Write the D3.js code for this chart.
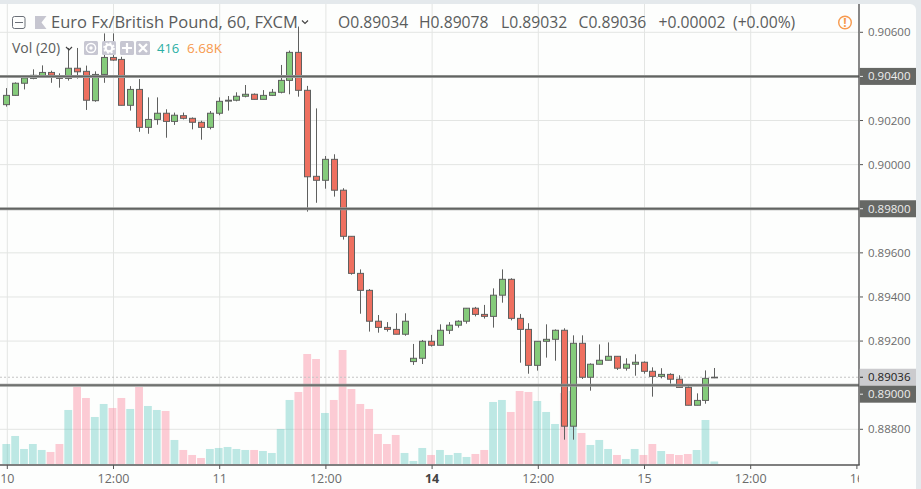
<!DOCTYPE html>
<html><head><meta charset="utf-8">
<script src="https://cdn.jsdelivr.net/npm/d3@7/dist/d3.min.js"></script>
<style>html,body{margin:0;padding:0;background:#e4e9ec;overflow:hidden}svg{display:block}text{font-family:"Open Sans",sans-serif}</style>
</head><body><svg id="c" width="921" height="489"></svg>
<script>
const opens=[.90272,.90314,.90369,.90391,.90403,.90418,.90403,.90391,.90437,.90423,.90290,.90409,.90486,.90477,.90269,.90341,.90169,.90205,.90233,.90196,.90222,.90210,.90192,.90169,.90233,.90288,.90292,.90310,.90319,.90296,.90314,.90328,.90382,.90509,.90337,.89947,.89929,.90024,.89884,.89675,.89507,.89430,.89290,.89262,.89253,.89231,.89107,.89122,.89199,.89181,.89249,.89272,.89290,.89349,.89321,.89312,.89408,.89480,.89303,.89253,.89090,.89199,.89208,.89249,.88814,.89190,.89036,.89095,.89113,.89131,.89077,.89095,.89104,.89063,.89040,.89049,.89027,.88990,.88909,.88931,.89034];
const highs=[.90347,.90373,.90402,.90432,.90450,.90426,.90414,.90529,.90529,.90449,.90423,.90595,.90595,.90489,.90356,.90388,.90305,.90305,.90251,.90236,.90236,.90214,.90199,.90243,.90305,.90311,.90328,.90361,.90323,.90338,.90343,.90452,.90517,.90626,.90357,.90255,.90039,.90047,.89893,.89675,.89525,.89436,.89318,.89286,.89326,.89326,.89187,.89205,.89228,.89276,.89286,.89294,.89350,.89355,.89364,.89439,.89525,.89485,.89323,.89281,.89199,.89276,.89253,.89258,.89226,.89226,.89099,.89185,.89194,.89131,.89122,.89140,.89108,.89081,.89077,.89054,.89045,.89004,.88963,.89067,.89078];
const lows=[.90263,.90312,.90341,.90387,.90402,.90371,.90349,.90381,.90390,.90248,.90285,.90371,.90471,.90269,.90245,.90149,.90140,.90181,.90122,.90180,.90205,.90160,.90113,.90160,.90224,.90245,.90287,.90305,.90296,.90296,.90311,.90323,.90319,.90308,.89787,.89827,.89891,.89855,.89660,.89501,.89324,.89243,.89238,.89243,.89231,.89224,.89092,.89096,.89175,.89181,.89232,.89261,.89279,.89312,.89302,.89261,.89374,.89294,.89102,.89052,.89066,.89125,.89111,.88753,.88753,.89028,.88975,.89095,.89113,.89069,.89066,.89043,.89052,.88948,.89031,.89007,.88990,.88909,.88909,.88916,.89032];
const closes=[.90314,.90369,.90393,.90405,.90418,.90405,.90391,.90437,.90421,.90292,.90409,.90486,.90474,.90269,.90341,.90169,.90205,.90233,.90196,.90224,.90210,.90192,.90169,.90233,.90287,.90292,.90310,.90319,.90296,.90314,.90328,.90382,.90509,.90337,.89945,.89929,.90024,.89884,.89675,.89507,.89430,.89290,.89262,.89253,.89231,.89290,.89122,.89199,.89181,.89249,.89272,.89290,.89349,.89321,.89312,.89408,.89480,.89303,.89253,.89090,.89199,.89208,.89249,.88814,.89190,.89036,.89095,.89113,.89131,.89077,.89095,.89104,.89063,.89040,.89049,.89027,.88990,.88909,.88931,.89031,.89036];
const volumes=[3320,4649,2491,3320,2325,1993,3320,8965,12782,10957,7803,9961,9297,10957,9131,12782,9629,8965,8799,3985,2325,1495,997,2491,2657,2823,2491,2325,2325,2159,1827,5811,10625,11953,18260,17430,8467,10625,18924,12450,9961,9131,4981,3320,4815,1827,499,2657,1495,2325,1495,1827,1163,1661,2325,10293,10625,8633,12119,11953,10459,8633,6641,11787,12119,5147,3155,3985,2491,1495,831,2491,1495,3320,2158,1660,1494,1660,2324,7304,416];
const priceTicks=[.906,.904,.902,.900,.898,.896,.894,.892,.890,.888];
const levels=[.904,.898,.890];
const lastPrice=.89036;
const timeIndex=[0,12,24,36,48,60,72,84,96];
const timeLabels=["10","12:00","11","12:00","14","12:00","15","12:00","16"];
const boldLabels=["14"];

const svg=d3.select("#c");
const W=859,B=465;
const x=d3.scaleLinear().domain([0,80]).range([6.3,714.3]);
const tx=i=>x(i)+1;
const y=d3.scaleLinear().domain([.906,.888]).range([32.3,429.3]);
const yv=d3.scaleLinear().domain([0,20584]).range([464,340]);
const fmt=d3.format(".5f");
const defs=svg.append("defs");
defs.append("clipPath").attr("id","pane").append("rect").attr("x",0).attr("y",0).attr("width",W).attr("height",489);

svg.append("rect").attr("x",-10).attr("y",4).attr("width",926).attr("height",500).attr("rx",6).attr("fill","#fdfefd");

// grid
const g=svg.append("g");
g.selectAll(".h").data(priceTicks).join("line").attr("x1",0).attr("x2",W).attr("y1",d=>y(d)).attr("y2",d=>y(d)).attr("stroke","#e3e5e3").attr("stroke-width",1);
g.selectAll(".v").data(timeIndex.slice(0,8)).join("line").attr("x1",d=>tx(d)).attr("x2",d=>tx(d)).attr("y1",4).attr("y2",B).attr("stroke","#e3e5e3").attr("stroke-width",1);

// volume
const idx=d3.range(opens.length);
const up=i=>closes[i]>=opens[i];
svg.append("g").selectAll("rect").data(idx).join("rect")
 .attr("x",i=>x(i)-3.9).attr("width",7.8).attr("y",i=>yv(volumes[i])).attr("height",i=>464-yv(volumes[i]))
 .attr("fill",i=>up(i)?"#53c4bb":"#fb8fa3").attr("fill-opacity",i=>up(i)?.38:.46);

// last price dashed
svg.append("line").attr("x1",0).attr("x2",W).attr("y1",y(lastPrice)).attr("y2",y(lastPrice)).attr("stroke","#c4c4c4").attr("stroke-width",1).attr("stroke-dasharray","2,2");

// candles
const c=svg.append("g");
c.selectAll("line").data(idx).join("line").attr("x1",i=>Math.round(x(i))+.5).attr("x2",i=>Math.round(x(i))+.5)
 .attr("y1",i=>y(highs[i])).attr("y2",i=>y(lows[i])).attr("stroke","#5f605f").attr("stroke-width",1);
c.selectAll("rect").data(idx).join("rect")
 .attr("x",i=>Math.round(x(i))-2.5).attr("width",6)
 .attr("y",i=>y(Math.max(opens[i],closes[i]))).attr("height",i=>Math.max(.6,Math.abs(y(opens[i])-y(closes[i]))))
 .attr("fill",i=>up(i)?"#85cb7b":"#ee7060").attr("stroke","#5f605f").attr("stroke-width",1);

// level lines
const lv=svg.append("g");
lv.selectAll(".a").data(levels).join("line").attr("x1",0).attr("x2",W).attr("y1",d=>y(d)).attr("y2",d=>y(d)).attr("stroke","#9a9c9a").attr("stroke-width",3);
lv.selectAll(".b").data(levels).join("line").attr("x1",0).attr("x2",W).attr("y1",d=>y(d)).attr("y2",d=>y(d)).attr("stroke","#626462").attr("stroke-width",1.3);

// axes frame
svg.append("line").attr("x1",W).attr("x2",W).attr("y1",4).attr("y2",B).attr("stroke","#555").attr("stroke-width",1.4);
svg.append("line").attr("x1",0).attr("x2",W+.7).attr("y1",B).attr("y2",B).attr("stroke","#555").attr("stroke-width",1.4);

// time axis
const ta=svg.append("g").attr("clip-path","url(#pane)");
timeIndex.forEach((t,k)=>{
  svg.append("line").attr("x1",tx(t)).attr("x2",tx(t)).attr("y1",B).attr("y2",B+4).attr("stroke","#555");
  ta.append("text").attr("x",tx(t)).attr("y",483).attr("text-anchor","middle").attr("font-size",12.5)
    .attr("font-weight",boldLabels.includes(timeLabels[k])?700:400).attr("fill",boldLabels.includes(timeLabels[k])?"#444":"#6b6b6b").text(timeLabels[k]);
});

// price labels
const plain=priceTicks.filter(p=>!levels.includes(p));
plain.forEach(p=>{
  svg.append("line").attr("x1",W+1).attr("x2",W+4).attr("y1",y(p)).attr("y2",y(p)).attr("stroke","#555");
  svg.append("text").attr("x",868).attr("y",y(p)+4).attr("font-size",11.5).attr("fill","#6b6b6b").text(fmt(p));
});
function box(p,dy,bg,fg){
  const cy=y(p)+dy;
  svg.append("rect").attr("x",W+.7).attr("y",cy-8.5).attr("width",916-W-.7).attr("height",17).attr("fill",bg);
  svg.append("line").attr("x1",W+1).attr("x2",W+4).attr("y1",cy).attr("y2",cy).attr("stroke",fg);
  svg.append("text").attr("x",868).attr("y",cy+4).attr("font-size",11.5).attr("fill",fg).text(fmt(p));
}
box(.904,0,"#666865","#eeeeee");
box(.898,0,"#666865","#eeeeee");
box(lastPrice,0,"#cbcbce","#222222");
box(.890,9,"#666865","#eeeeee");

// legend
const ink="#5a5c5c";
svg.append("rect").attr("x",12.5).attr("y",16.5).attr("width",12.5).attr("height",12).attr("rx",2).attr("fill","none").attr("stroke","#6b7078").attr("stroke-width",1);
svg.append("line").attr("x1",15).attr("x2",23).attr("y1",22.5).attr("y2",22.5).attr("stroke","#6b7078");
svg.append("path").attr("d","M35 16H46.5L41.5 22.5L46.5 29H35Z").attr("fill","#c6c6d0");
svg.append("text").attr("x",51).attr("y",28).attr("font-size",16.5).attr("fill",ink).text("Euro Fx/British Pound, 60, FXCM");
svg.append("path").attr("d","M302 20.5L305 23.5L308 20.5").attr("fill","none").attr("stroke","#444").attr("stroke-width",1.2);
[["O0.89034",338],["H0.89078",419],["L0.89032",501],["C0.89036",578.5],["+0.00002",658.5],["(+0.00%)",733]].forEach(([s,px])=>
  svg.append("text").attr("x",px).attr("y",28).attr("font-size",15.7).attr("fill",ink).text(s));
svg.append("circle").attr("cx",845).attr("cy",22.5).attr("r",6.3).attr("fill","none").attr("stroke","#f79a4e").attr("stroke-width",1.4);
svg.append("text").attr("x",845).attr("y",26.8).attr("text-anchor","middle").attr("font-size",12).attr("font-weight",700).attr("fill","#f79a4e").text("!");

svg.append("text").attr("x",12).attr("y",53).attr("font-size",14).attr("fill",ink).text("Vol (20)");
svg.append("path").attr("d","M66 47L69 50L72 47").attr("fill","none").attr("stroke","#444").attr("stroke-width",1.2);
[84,102,120,136].forEach(b=>svg.append("rect").attr("x",b).attr("y",41).attr("width",14).attr("height",14).attr("rx",1.5).attr("fill","#c7c7d2"));
svg.append("circle").attr("cx",91).attr("cy",48).attr("r",4.6).attr("fill","none").attr("stroke","#fff").attr("stroke-width",1.5);
svg.append("circle").attr("cx",91).attr("cy",48).attr("r",1.7).attr("fill","#fff");
svg.append("circle").attr("cx",109).attr("cy",48).attr("r",3.4).attr("fill","none").attr("stroke","#fff").attr("stroke-width",2.2);
svg.append("circle").attr("cx",109).attr("cy",48).attr("r",5).attr("fill","none").attr("stroke","#fff").attr("stroke-width",1.6).attr("stroke-dasharray","2,1.9");
svg.append("path").attr("d","M122 48H132M127 43V53").attr("stroke","#fff").attr("stroke-width",2.2);
svg.append("path").attr("d","M139 44L147 52M147 44L139 52").attr("stroke","#fff").attr("stroke-width",2.2);
svg.append("text").attr("x",157).attr("y",53).attr("font-size",13).attr("fill","#2aaea3").text(volumes[volumes.length-1]);
svg.append("text").attr("x",187).attr("y",53).attr("font-size",13.5).attr("fill","#f79a4e").text("6.68K");
</script></body></html>
